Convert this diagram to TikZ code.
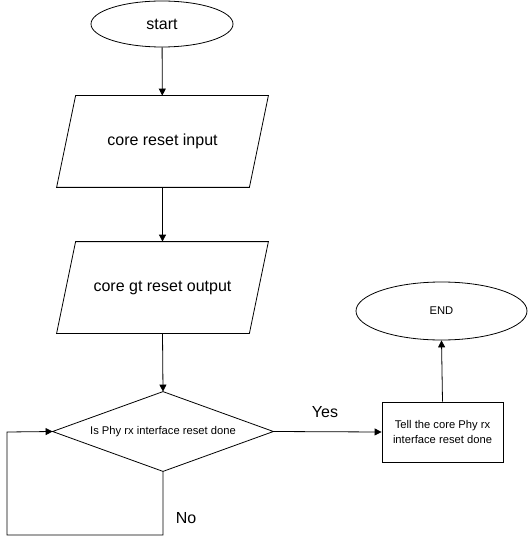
\documentclass[tikz,border=0pt]{standalone}
\usepackage{fontspec}
\setmainfont{Liberation Sans}
\usetikzlibrary{shapes.geometric,arrows.meta}
\begin{document}
\begin{tikzpicture}[x=1pt,y=-1pt,
  base/.style={line width=0.8pt,inner sep=0pt,align=center},
  big/.style={font=\fontsize{16}{19}\selectfont},
  small/.style={font=\fontsize{11.2}{15}\selectfont},
  term/.style={base,draw=black,ellipse},
  io/.style={base,rectangle,minimum width=211pt,minimum height=91pt,big},
  dec/.style={base,rectangle,minimum width=220pt,minimum height=79pt,small},
  proc/.style={base,draw=black,rectangle,minimum width=121pt,minimum height=60pt,small},
  shp/.style={line width=0.8pt,line join=miter},
  conn/.style={line width=0.8pt,-{Triangle[length=7pt,width=7pt]}},
  lbl/.style={big}]
\useasboundingbox (0,0) rectangle (528,545);
\node[term,minimum width=142pt,minimum height=46pt,big] (start) at (162,24) {start};
\node[io] (in) at (162.5,141.5) {core reset input};
\node[io] (out) at (162.5,287.5) {core gt reset output};
\node[dec] (d) at (163,431.5) {Is Phy rx interface reset done};
\node[proc] (tell) at (442.5,432) {Tell the core Phy rx\\interface reset done};
\node[term,minimum width=171pt,minimum height=58pt,small] (end) at (441.5,311) {END};
\draw[shp] ([xshift=19pt]in.north west) -- (in.north east) -- ([xshift=-19pt]in.south east) -- (in.south west) -- cycle;
\draw[shp] ([xshift=19pt]out.north west) -- (out.north east) -- ([xshift=-19pt]out.south east) -- (out.south west) -- cycle;
\draw[shp] (d.north) -- (d.east) -- (d.south) -- (d.west) -- cycle;
\coordinate (c1) at (163,535);
\coordinate (c2) at (7,535);
\coordinate (c3) at (7,432);
\draw[conn] (start) -- (in);
\draw[conn] (in) -- (out);
\draw[conn] (out.south) -- (d.north);
\draw[conn] (d.east) -- (tell.west);
\draw[conn] (tell.north) -- (end.south);
\draw[conn] (d.south) -- (c1) -- (c2) -- (c3) -- (d.west);
\node[lbl] (yes) at (325,412) {Yes};
\node[lbl] (no) at (186,518) {No};
\end{tikzpicture}
\end{document}
